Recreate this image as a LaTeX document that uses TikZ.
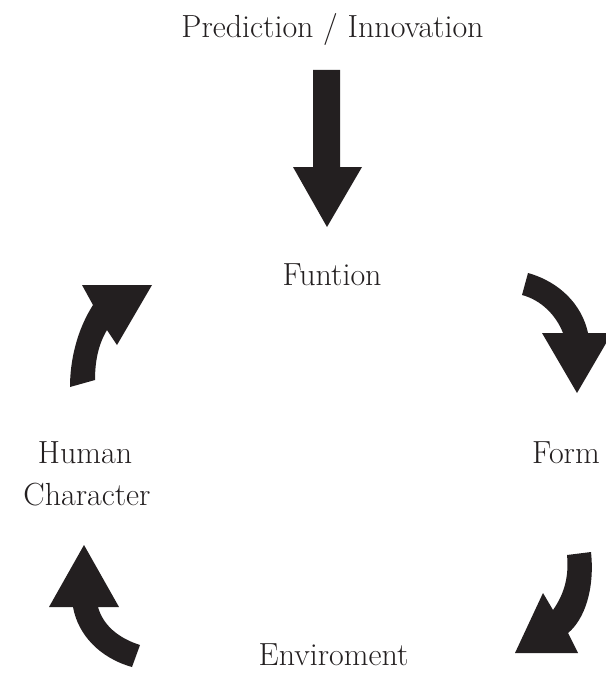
\documentclass[tikz,border=0pt]{standalone}
\usepackage{fontspec}
\definecolor{ink}{HTML}{231F20}
\tikzset{
  label/.style={font=\fontsize{32}{42}\selectfont, text=ink, inner sep=0pt, anchor=base},
  blockarrow/.style={fill=ink, draw=none}
}
\begin{document}
\begin{tikzpicture}[x=1pt, y=-1pt]
  \useasboundingbox (0,0) rectangle (605,674);

  % labels
  \node[label] (title) at (332.5,38) {Prediction / Innovation};
  \node[label] (funtion) at (332,285) {Funtion};
  \node[label] (human) at (85,463) {Human};
  \node[label] (character) at (87,505) {Character};
  \node[label, anchor=base west] (form) at (532,463) {Form};
  \node[label] (enviroment) at (333.5,665) {Enviroment};

  % straight arrow from the title down to Funtion
  \fill[blockarrow] (313,70) -- (340,70) -- (340,167) -- (362,167) -- (327,227)
    -- (293,167) -- (313,167) -- cycle;

  % curved arrow: Funtion to Form
  \fill[blockarrow] (528,273) .. controls (560,282) and (582,305) .. (588,333)
    -- (612,333) -- (577,393) -- (542,333) -- (563,333)
    .. controls (556,315) and (541,300) .. (522,295) -- cycle;

  % curved arrow: Form to Enviroment
  \fill[blockarrow] (567,555) -- (591,552) .. controls (595,590) and (584,620) .. (568,633)
    -- (578,653) -- (515,653) -- (543,593) -- (553,610)
    .. controls (565,593) and (569,575) .. (567,555) -- cycle;

  % curved arrow: Enviroment to Human Character
  \fill[blockarrow] (84,545) -- (119,607) -- (98,607)
    .. controls (103,625) and (118,638) .. (140,645) -- (132,667)
    .. controls (100,658) and (78,635) .. (73,607) -- (49,607) -- cycle;

  % curved arrow: Human Character to Funtion
  \fill[blockarrow] (152,285) -- (82,285) -- (93,305)
    .. controls (77,330) and (70,360) .. (70,387) -- (95,380)
    .. controls (95,362) and (98,345) .. (107,330) -- (117,345) -- cycle;
\end{tikzpicture}
\end{document}
